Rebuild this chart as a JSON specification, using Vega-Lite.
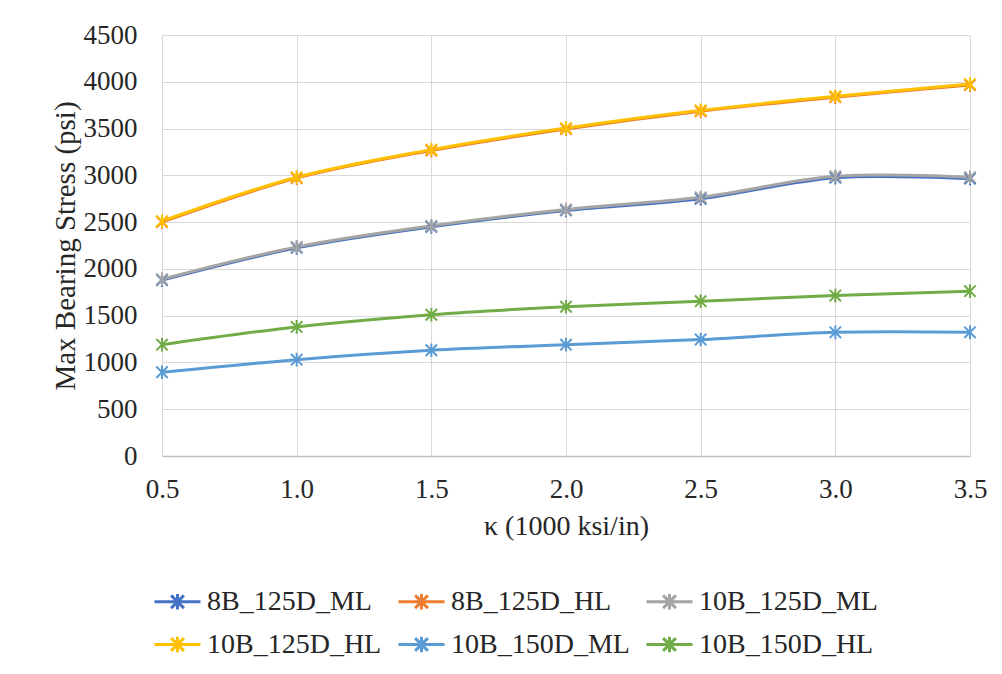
{
  "$schema": "https://vega.github.io/schema/vega-lite/v6.json",
  "width": 808,
  "height": 421,
  "autosize": {"type": "none"},
  "padding": {"left": 162, "top": 35, "right": 32, "bottom": 218},
  "background": "white",
  "config": {
    "font": "Liberation Serif",
    "view": {"stroke": null},
    "style": {
      "guide-label": {"font": "Liberation Serif", "fontSize": 27, "fill": "#262626"},
      "guide-title": {"font": "Liberation Serif", "fontSize": 29, "fill": "#262626", "fontWeight": "normal"}
    },
    "axis": {
      "labelFont": "Liberation Serif",
      "titleFont": "Liberation Serif",
      "labelFontSize": 27,
      "titleFontSize": 29,
      "titleFontWeight": "normal",
      "labelColor": "#262626",
      "titleColor": "#262626",
      "gridColor": "#d9d9d9",
      "gridWidth": 1,
      "ticks": false,
      "labelFlush": false
    },
    "legend": {
      "labelFont": "Liberation Serif",
      "labelFontSize": 28,
      "labelColor": "#262626",
      "labelLimit": 400
    }
  },
  "data": {
    "values": [
      {"s": "8B_125D_ML", "k": 0.5, "v": 1880},
      {"s": "8B_125D_ML", "k": 1.0, "v": 2225},
      {"s": "8B_125D_ML", "k": 1.5, "v": 2450},
      {"s": "8B_125D_ML", "k": 2.0, "v": 2625},
      {"s": "8B_125D_ML", "k": 2.5, "v": 2750},
      {"s": "8B_125D_ML", "k": 3.0, "v": 2975},
      {"s": "8B_125D_ML", "k": 3.5, "v": 2965},
      {"s": "8B_125D_HL", "k": 0.5, "v": 2500},
      {"s": "8B_125D_HL", "k": 1.0, "v": 2970},
      {"s": "8B_125D_HL", "k": 1.5, "v": 3265},
      {"s": "8B_125D_HL", "k": 2.0, "v": 3495},
      {"s": "8B_125D_HL", "k": 2.5, "v": 3685},
      {"s": "8B_125D_HL", "k": 3.0, "v": 3835},
      {"s": "8B_125D_HL", "k": 3.5, "v": 3965},
      {"s": "10B_125D_ML", "k": 0.5, "v": 1890},
      {"s": "10B_125D_ML", "k": 1.0, "v": 2235},
      {"s": "10B_125D_ML", "k": 1.5, "v": 2460},
      {"s": "10B_125D_ML", "k": 2.0, "v": 2635},
      {"s": "10B_125D_ML", "k": 2.5, "v": 2765},
      {"s": "10B_125D_ML", "k": 3.0, "v": 2990},
      {"s": "10B_125D_ML", "k": 3.5, "v": 2980},
      {"s": "10B_125D_HL", "k": 0.5, "v": 2510},
      {"s": "10B_125D_HL", "k": 1.0, "v": 2980},
      {"s": "10B_125D_HL", "k": 1.5, "v": 3275},
      {"s": "10B_125D_HL", "k": 2.0, "v": 3505},
      {"s": "10B_125D_HL", "k": 2.5, "v": 3695},
      {"s": "10B_125D_HL", "k": 3.0, "v": 3845},
      {"s": "10B_125D_HL", "k": 3.5, "v": 3975},
      {"s": "10B_150D_ML", "k": 0.5, "v": 895},
      {"s": "10B_150D_ML", "k": 1.0, "v": 1030},
      {"s": "10B_150D_ML", "k": 1.5, "v": 1130},
      {"s": "10B_150D_ML", "k": 2.0, "v": 1190},
      {"s": "10B_150D_ML", "k": 2.5, "v": 1245},
      {"s": "10B_150D_ML", "k": 3.0, "v": 1322},
      {"s": "10B_150D_ML", "k": 3.5, "v": 1322},
      {"s": "10B_150D_HL", "k": 0.5, "v": 1190},
      {"s": "10B_150D_HL", "k": 1.0, "v": 1380},
      {"s": "10B_150D_HL", "k": 1.5, "v": 1510},
      {"s": "10B_150D_HL", "k": 2.0, "v": 1595},
      {"s": "10B_150D_HL", "k": 2.5, "v": 1655},
      {"s": "10B_150D_HL", "k": 3.0, "v": 1715},
      {"s": "10B_150D_HL", "k": 3.5, "v": 1762}
    ]
  },
  "encoding": {
    "x": {
      "field": "k",
      "type": "quantitative",
      "scale": {"domain": [0.5, 3.5], "nice": false, "zero": false},
      "axis": {
        "values": [0.5, 1.0, 1.5, 2.0, 2.5, 3.0, 3.5],
        "format": ".1f",
        "title": "κ (1000 ksi/in)",
        "titleFontSize": 28,
        "labelFont": "Liberation Serif",
        "labelPadding": 20,
        "titlePadding": 10,
        "domainColor": "#bfbfbf",
        "domainWidth": 1.5
      }
    },
    "y": {
      "field": "v",
      "type": "quantitative",
      "scale": {"domain": [0, 4500], "nice": false},
      "axis": {
        "values": [0, 500, 1000, 1500, 2000, 2500, 3000, 3500, 4000, 4500],
        "format": "d",
        "title": "Max Bearing Stress (psi)",
        "labelFont": "Liberation Serif",
        "labelPadding": 25,
        "titlePadding": 3,
        "domain": false
      }
    },
    "color": {
      "field": "s",
      "type": "nominal",
      "scale": {
        "domain": ["8B_125D_ML", "8B_125D_HL", "10B_125D_ML", "10B_125D_HL", "10B_150D_ML", "10B_150D_HL"],
        "range": ["#4472C4", "#ED7D31", "#A5A5A5", "#FFC000", "#5B9BD5", "#70AD47"]
      },
      "legend": {
        "title": null,
        "orient": "none",
        "legendX": 1,
        "legendY": 552,
        "direction": "horizontal",
        "columns": 3,
        "labelFont": "Liberation Serif",
        "labelFontSize": 28,
        "labelLimit": 400,
        "symbolType": "M-1.8,0L1.8,0M-0.5,-0.5L0.5,0.5M-0.5,0.5L0.5,-0.5M0,-0.6L0,0.6",
        "symbolSize": 655,
        "symbolStrokeWidth": 3,
        "symbolFillColor": "transparent",
        "labelOffset": 15,
        "rowPadding": 14,
        "columnPadding": 10
      }
    }
  },
  "layer": [
    {
      "mark": {"type": "line", "interpolate": "catmull-rom", "strokeWidth": 3}
    },
    {
      "mark": {
        "type": "point",
        "shape": "M-1,-1L1,1M-1,1L1,-1M0,-1.2L0,1.2",
        "filled": false,
        "size": 130,
        "strokeWidth": 2,
        "opacity": 1
      }
    }
  ]
}
